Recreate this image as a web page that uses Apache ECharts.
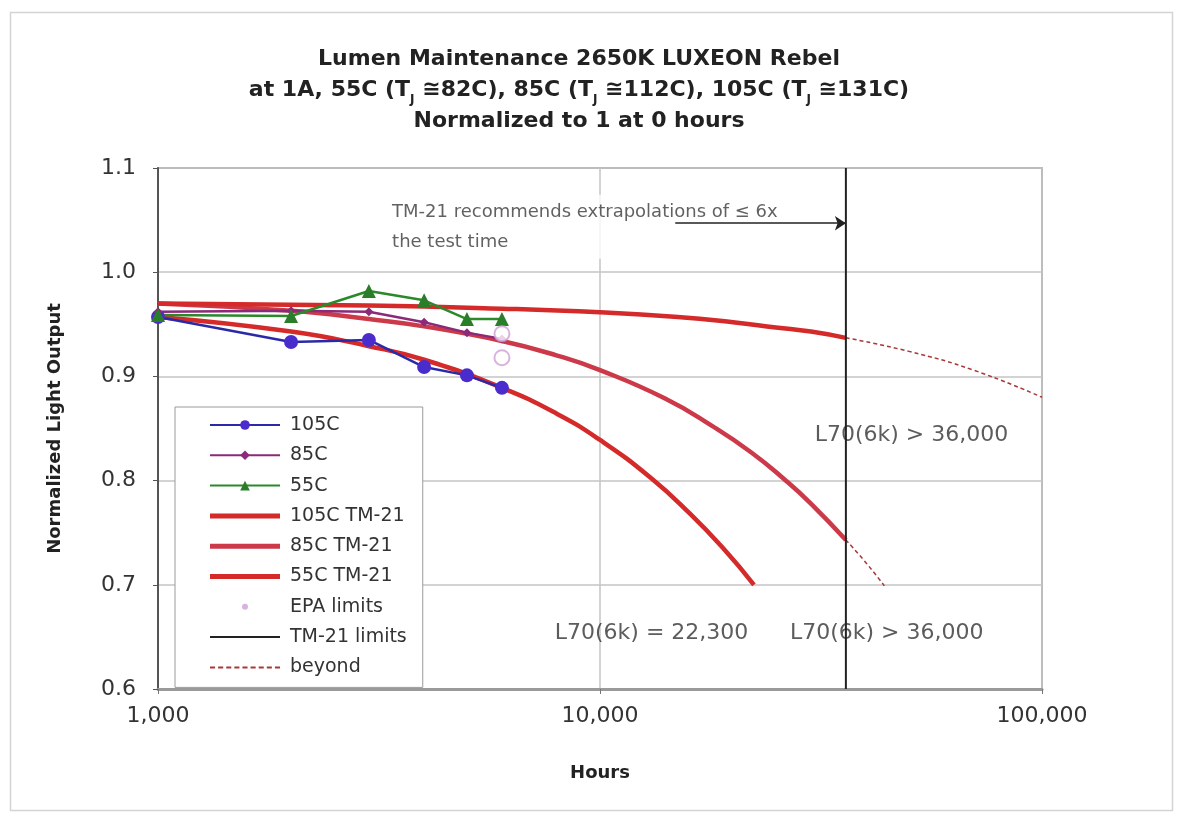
<!DOCTYPE html>
<html><head><meta charset="utf-8">
<script src="https://cdn.jsdelivr.net/npm/echarts@6/dist/echarts.min.js"></script>
<style>html,body{margin:0;padding:0;background:#fff}#c{width:1179px;height:816px}</style>
</head><body><div id="c"></div>
<script>
// ---- measured data ----
const hoursData = [1000, 2000, 3000, 4000, 5000, 6000];
const lm105C = [0.957, 0.933, 0.935, 0.909, 0.901, 0.889];
const lm85C  = [0.962, 0.963, 0.962, 0.952, 0.942, 0.936];
const lm55C  = [0.959, 0.958, 0.982, 0.973, 0.955, 0.955];

// ---- TM-21 projections ----
const tm105Hours = [1000, 2000, 3000, 4000, 6000, 8000, 10000, 13000, 16000, 19000, 22300];
const tm105Vals  = [0.957, 0.943, 0.929, 0.916, 0.889, 0.864, 0.839, 0.803, 0.768, 0.735, 0.700];
const tm85Hours  = [1000, 2000, 3000, 4000, 6000, 8000, 10000, 14000, 18000, 22000, 26000, 30000, 36000];
const tm85Vals   = [0.970, 0.963, 0.955, 0.948, 0.934, 0.920, 0.906, 0.879, 0.852, 0.827, 0.802, 0.778, 0.743];
const tm55Hours  = [1000, 3000, 6000, 10000, 15000, 20000, 25000, 30000, 36000];
const tm55Vals   = [0.970, 0.968, 0.965, 0.9615, 0.957, 0.952, 0.947, 0.943, 0.937];
const beyond85Hours = [36000, 40000, 44000];
const beyond85Vals  = [0.743, 0.721, 0.699];
const beyond55Hours = [36000, 50000, 70000, 100000];
const beyond55Vals  = [0.937, 0.924, 0.906, 0.880];

// ---- limits ----
const epaHours = [6000, 6000];
const epaVals  = [0.941, 0.918];
const tm21LimitHours = 36000;
const yTicks = [0.6, 0.7, 0.8, 0.9, 1.0, 1.1];
const xTicks = [1000, 10000, 100000];
const arrowFrom = [14800, 1.047];
const arrowTo   = [36000, 1.047];

// ---- annotations ----
const noteTexts = ['TM-21 recommends extrapolations of \u2264 6x\nthe test time', 'L70(6k) > 36,000', 'L70(6k) = 22,300', 'L70(6k) > 36,000'];
const noteHours = [3350, 30600, 7900, 26900];
const noteVals  = [1.0435, 0.8433, 0.6536, 0.6536];

const zip = (xs, ys) => xs.map((x, i) => [x, ys[i]]);
const fmtThousands = v => String(Math.round(v)).replace(/\B(?=(\d{3})+(?!\d))/g, ',');

const RED = '#d42a2a';
const PINKRED = '#cc3a4a';
const noteLabel = (t, i) => i === 0
  ? {formatter: t, fontSize: 18, lineHeight: 30, color: '#3a3a3a', backgroundColor: '#fff', padding: [4, 4, 0, 2]}
  : {formatter: t};

// legend line-only icons
const ICON_THICK = 'path://M0,0h70v5h-70z';
const ICON_THIN = 'path://M0,0h70v2h-70z';
let dashPath = 'path://';
for (let x = 0; x < 70; x += 8) dashPath += 'M' + x + ',0h5v2h-5z';
const ICON_DASH = dashPath;
const ICON_DOT = 'path://M0,0M12,12M3,6a3,3 0 1,0 6,0a3,3 0 1,0 -6,0z';

const chart = echarts.init(document.getElementById('c'), null, {renderer: 'canvas'});
chart.setOption({
  animation: false,
  backgroundColor: '#fff',
  title: {
    left: 574, textAlign: 'center', top: 39,
    text: '{t|Lumen Maintenance 2650K LUXEON Rebel}\n{t|at 1A, 55C (T}{s|J}{t| \u224582C), 85C (T}{s|J}{t| \u2245112C), 105C (T}{s|J}{t| \u2245131C)}\n{t|Normalized to 1 at 0 hours}',
    textStyle: {
      rich: {
        t: {fontFamily: 'DejaVu Sans', fontWeight: 'bold', fontSize: 22, color: '#222', lineHeight: 31},
        s: {fontFamily: 'DejaVu Sans', fontWeight: 'bold', fontSize: 12, color: '#222', lineHeight: 18, verticalAlign: 'bottom'}
      }
    }
  },
  graphic: [{type: 'rect', left: 8, top: 10, shape: {width: 1162, height: 798}, style: {fill: 'none', stroke: '#d4d4d4', lineWidth: 1.5}, z: -10}],
  grid: {left: 158, right: 137, top: 168, bottom: 127, show: true, borderColor: '#8c8c8c', borderWidth: 1.5},
  legend: {
    orient: 'vertical', left: 175, top: 407,
    padding: [8, 16, 10, 34],
    backgroundColor: '#fff', borderColor: '#9a9a9a', borderWidth: 1,
    itemWidth: 70, itemHeight: 12, itemGap: 10.3,
    textStyle: {fontFamily: 'DejaVu Sans', fontSize: 19, color: '#333', lineHeight: 20, padding: [0, 0, 0, 5]},
    z: 20,
    data: [
      '105C', '85C', '55C',
      {name: '105C TM-21', icon: ICON_THICK},
      {name: '85C TM-21', icon: ICON_THICK},
      {name: '55C TM-21', icon: ICON_THICK},
      {name: 'EPA limits', icon: ICON_DOT, itemStyle: {color: '#d0a0d8', borderWidth: 0}},
      {name: 'TM-21 limits', icon: ICON_THIN},
      {name: 'beyond', icon: ICON_DASH}
    ]
  },
  xAxis: {
    type: 'log', logBase: 10, min: xTicks[0], max: xTicks[xTicks.length - 1],
    name: 'Hours', nameLocation: 'middle', nameGap: 75,
    nameTextStyle: {fontFamily: 'DejaVu Sans', fontWeight: 'bold', fontSize: 18, color: '#222'},
    axisLine: {lineStyle: {color: '#9a9a9a', width: 3}},
    axisTick: {show: true, length: 5, lineStyle: {color: '#777'}},
    axisLabel: {margin: 16, fontFamily: 'DejaVu Sans', fontSize: 22, color: '#333', formatter: v => fmtThousands(v)},
    splitLine: {show: true, lineStyle: {color: '#c4c4c4', width: 1.5}}
  },
  yAxis: {
    type: 'value', min: yTicks[0], max: yTicks[yTicks.length - 1], interval: 0.1,
    name: 'Normalized Light Output', nameLocation: 'middle', nameGap: 94,
    nameTextStyle: {fontFamily: 'DejaVu Sans', fontWeight: 'bold', fontSize: 18, color: '#222'},
    axisLine: {show: true, lineStyle: {color: '#555', width: 2}},
    axisTick: {show: true, length: 5, lineStyle: {color: '#555'}},
    axisLabel: {margin: 22, fontFamily: 'DejaVu Sans', fontSize: 22, color: '#333', formatter: v => v.toFixed(1)},
    splitLine: {show: true, lineStyle: {color: '#c4c4c4', width: 1.5}}
  },
  series: [
    {name: '105C TM-21', type: 'line', data: zip(tm105Hours, tm105Vals), symbol: 'none', smooth: true, lineStyle: {color: RED, width: 4.5}, itemStyle: {color: RED}, z: 2},
    {name: '85C TM-21', type: 'line', data: zip(tm85Hours, tm85Vals), symbol: 'none', smooth: true, lineStyle: {color: PINKRED, width: 4.5}, itemStyle: {color: PINKRED}, z: 2},
    {name: '55C TM-21', type: 'line', data: zip(tm55Hours, tm55Vals), symbol: 'none', smooth: true, lineStyle: {color: RED, width: 4.5}, itemStyle: {color: RED}, z: 2},
    {name: 'beyond', type: 'line', data: zip(beyond85Hours, beyond85Vals), symbol: 'none', smooth: true, lineStyle: {color: '#a83838', width: 1.5, type: [4, 3]}, itemStyle: {color: '#a83838'}, z: 2},
    {name: 'beyond', type: 'line', data: zip(beyond55Hours, beyond55Vals), symbol: 'none', smooth: true, lineStyle: {color: '#a83838', width: 1.5, type: [4, 3]}, itemStyle: {color: '#a83838'}, z: 2},
    {name: '105C', type: 'line', data: zip(hoursData, lm105C), symbol: 'circle', symbolSize: 14, lineStyle: {color: '#2a2aa8', width: 2.5}, itemStyle: {color: '#4a2ccc'}, z: 4},
    {name: '85C', type: 'line', data: zip(hoursData, lm85C), symbol: 'diamond', symbolSize: 9, lineStyle: {color: '#8a2a78', width: 2.5}, itemStyle: {color: '#8a2a78'}, z: 4},
    {name: '55C', type: 'line', data: zip(hoursData, lm55C), symbol: 'triangle', symbolSize: 14, lineStyle: {color: '#2a8a2a', width: 2.5}, itemStyle: {color: '#2a7e2a'}, z: 4},
    {name: 'EPA limits', type: 'scatter', data: zip(epaHours, epaVals), symbol: 'circle', symbolSize: 15,
      itemStyle: {color: '#fff', borderColor: '#d0a0d8', borderWidth: 2}, z: 5},
    {name: 'notes', type: 'scatter', silent: true, symbolSize: 0, z: 3,
      data: noteTexts.map((t, i) => ({value: [noteHours[i], noteVals[i]], label: noteLabel(t, i)})),
      label: {show: true, position: 'right', distance: 0, fontFamily: 'DejaVu Sans', fontSize: 22, color: '#333'},
      labelLayout: {hideOverlap: false}},
    {name: 'TM-21 limits', type: 'line', symbol: 'none', z: 10,
      data: [[tm21LimitHours, yTicks[0]], [tm21LimitHours, yTicks[yTicks.length - 1]]],
      lineStyle: {color: '#222', width: 2}, itemStyle: {color: '#222'},
      markLine: {silent: true, symbol: ['none', 'arrow'], symbolSize: 11, label: {show: false},
        lineStyle: {color: '#222', width: 1.5, type: 'solid'},
        data: [[{coord: arrowFrom}, {coord: arrowTo}]]}}
  ]
});
</script>
</body></html>
